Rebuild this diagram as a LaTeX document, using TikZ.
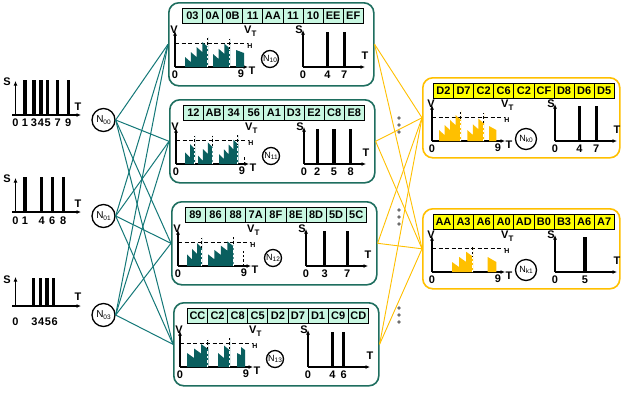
\documentclass[tikz,border=0pt]{standalone}
\usepackage{fontspec}
\setmainfont{Liberation Sans}
\usetikzlibrary{arrows.meta}

\definecolor{tealline}{RGB}{20,120,120}
\definecolor{tealborder}{RGB}{30,110,95}
\definecolor{tealfill}{RGB}{10,95,95}
\definecolor{mint}{RGB}{200,247,225}
\definecolor{amber}{RGB}{255,192,0}
\definecolor{ycell}{RGB}{255,255,0}
\definecolor{dotgray}{RGB}{110,110,110}

% subscript of a neuron label
\newcommand\nsub[1]{\raisebox{-1.5pt}{\fontsize{6.5}{7}\selectfont #1}}

% geometry of the two kinds of neuron panels
\newcommand\useteal{\def\pnW{205pt}\def\pnH{83pt}\def\pnCX{14}\def\pnOX{7}\def\pnOY{65}%
  \def\pnSX{128}\def\pnNX{95}\def\pnNY{8}\def\pnND{17pt}}
\newcommand\useyel{\def\pnW{197pt}\def\pnH{80pt}\def\pnCX{11}\def\pnOX{10}\def\pnOY{64}%
  \def\pnSX{123}\def\pnNX{94}\def\pnNY{2}\def\pnND{21pt}}

% #1 name, #2 left, #3 top, #4 kind (teal/yel), #5 register bytes, #6 neuron index, #7 output spike times
\newcommand\panel[7]{%
  \node[#4box, minimum width=\pnW, minimum height=\pnH] (#1) at (#2,#3) {};
  \foreach \hx [count=\ci from 0] in {#5}
    \node[#4cell] (#1c\ci) at ({#2+\pnCX+20.1*\ci},{#3+6}) {\hx};
  \begin{scope}[shift={({#2+\pnOX},{#3+\pnOY})}, yscale=-1]
    % membrane potential plot
    \draw[thr] (0,24) -- (73,24);
    \draw[axis] (0,0) -- (0,36);
    \draw[axis] (0,0) -- (73,0);
    \node[lbl] at (-1,37) {V};
    \node[lbl, anchor=west] at (69,36) {V\raisebox{-2.5pt}{\fontsize{8}{8}\selectfont T}};
    \node[lbl, font=\fontsize{7}{7}\selectfont\bfseries] at (75,21) {H};
    \node[lbl] at (0,-8) {0};
    \node[lbl] at (66,-7) {9};
    \node[lbl] at (77,-4) {T};
    % neuron
    \node[ncirc, minimum size=\pnND] (#1n) at (\pnNX,\pnNY) {N\nsub{#6}};
    % output spike train
    \draw[axis] (\pnSX,0) -- (\pnSX,37);
    \draw[axis] (\pnSX,0) -- ({\pnSX+62},0);
    \node[lbl] at ({\pnSX-4},37) {S};
    \node[lbl] at ({\pnSX+62},11) {T};
    \node[lbl] at (\pnSX,-8) {0};
    \foreach \t in {#7} {
      \draw[spk] ({\pnSX+2+5.6*\t},0) -- ({\pnSX+2+5.6*\t},35);
      \node[lbl] at ({\pnSX+2+5.6*\t},-8) {\t};
    }
  \end{scope}
}

% integrate-and-fire ramp: x0, x1, start height, peak height, number of inputs
\newcommand\memratchet[5]{%
  \pgfmathsetmacro\rd{(#4-#3)/#5}%
  \pgfmathsetmacro\rw{(#2-#1)/#5}%
  \pgfmathsetmacro\rlow{#3+(#5-1)*\rd-5}%
  \fill[mem] (#1,0) -- (#1,#3)
    \foreach \k in {1,...,#5}{ -- ({#1+\k*\rw},{#3+(\k-1)*\rd-5}) -- ({#1+\k*\rw},{#3+\k*\rd}) }
    -- (#2,0) -- cycle;
  \draw[resetb] (#2-0.6,0) -- (#2-0.6,#4);
  \draw[resetw] (#2-0.6,0) -- (#2-0.6,\rlow);
}
% leaking potential without firing
\newcommand\memdecay[4]{\fill[mem] (#1,0) -- (#1,#3) -- (#2,#4) -- (#2,0) -- cycle;}

\begin{document}
\begin{tikzpicture}[x=1pt,y=-1pt,
  lbl/.style={font=\fontsize{11}{12}\selectfont\bfseries, inner sep=0pt},
  hexcell/.style={draw=black, line width=0.8pt, minimum width=20.1pt, minimum height=15pt,
    inner sep=0pt, anchor=north west, font=\fontsize{11}{12}\selectfont\bfseries},
  tealcell/.style={hexcell, fill=mint},
  yelcell/.style={hexcell, fill=ycell},
  tealbox/.style={draw=tealborder, line width=1.6pt, rounded corners=10pt, inner sep=0pt, anchor=north west},
  yelbox/.style={draw=amber, line width=1.6pt, rounded corners=10pt, inner sep=0pt, anchor=north west},
  axis/.style={line width=1.3pt, -{Latex[length=4.5pt,width=4pt]}},
  thr/.style={line width=1pt, dash pattern=on 4pt off 2.5pt},
  spk/.style={line width=3.2pt},
  resetb/.style={line width=0.9pt, dash pattern=on 2.5pt off 2pt},
  resetw/.style={resetb, draw=white},
  ncirc/.style={circle, draw, line width=1.3pt, inner sep=0pt, font=\fontsize{9}{10}\selectfont},
  nleft/.style={ncirc, minimum size=23pt, font=\fontsize{10}{11}\selectfont},
  tline/.style={draw=tealline, line width=1pt},
  yline/.style={draw=amber, line width=0.9pt},
]
\fill[white] (0,0) rectangle (621,392);
\useasboundingbox (0,0) rectangle (621,392);

% ---- input spike trains ----
\draw[axis] (15.5,115) -- (15.5,81);
\draw[axis] (12,115) -- (81,115);
\node[lbl] at (7,82) {S};
\node[lbl] at (78,107) {T};
\node[lbl] at (15.5,123) {0};
\foreach \x/\t in {25/1,34/3,41/4,47.7/5,57.7/7,68.3/9}{
  \draw[spk] (\x,115) -- (\x,80);
  \node[lbl] at (\x,123) {\t};
}

\draw[axis] (15.5,212) -- (15.5,178);
\draw[axis] (12,212) -- (81,212);
\node[lbl] at (7,179) {S};
\node[lbl] at (78,204) {T};
\node[lbl] at (15.5,221) {0};
\foreach \x/\t in {25/1,41.7/4,52.3/6,63.3/8}{
  \draw[spk] (\x,212) -- (\x,177);
  \node[lbl] at (\x,221) {\t};
}

\draw[axis] (15.5,306) -- (15.5,277);
\draw[axis] (12,306) -- (81,306);
\node[lbl] at (7,280) {S};
\node[lbl] at (78,297) {T};
\node[lbl] at (15.5,322) {0};
\foreach \x/\t in {33.5/3,40.2/4,46.9/5,53.6/6}{
  \draw[spk] (\x,306) -- (\x,278);
  \node[lbl] at (\x+1,322) {\t};
}

% ---- input neurons ----
\node[nleft] (N00) at (103.5,120) {N\nsub{00}};
\node[nleft] (N01) at (103.5,216) {N\nsub{01}};
\node[nleft] (N03) at (103.5,315) {N\nsub{03}};

% ---- hidden layer ----
\useteal
\panel{P0}{168}{2}{teal}{03,0A,0B,11,AA,11,10,EE,EF}{10}{4,7}
\panel{P1}{169}{99}{teal}{12,AB,34,56,A1,D3,E2,C8,E8}{11}{2,5,8}
\panel{P2}{171}{201}{teal}{89,86,88,7A,8F,8E,8D,5D,5C}{12}{3,7}
\panel{P3}{173}{302}{teal}{CC,C2,C8,C5,D2,D7,D1,C9,CD}{13}{4,6}

% ---- output layer ----
\useyel
\panel{K0}{422}{77}{yel}{D2,D7,C2,C6,C2,CF,D8,D6,D5}{k0}{4,7}
\panel{K1}{422}{208}{yel}{AA,A3,A6,A0,AD,B0,B3,A6,A7}{k1}{5}

% ---- membrane potentials ----
\begin{scope}[shift={(175,67)}, yscale=-1, mem/.style={fill=tealfill}]
  \memratchet{10}{33}{10}{30}{4}
  \memratchet{38}{55}{13}{28.5}{3}
  \memdecay{61}{69}{17}{14}
\end{scope}
\begin{scope}[shift={(176,164)}, yscale=-1, mem/.style={fill=tealfill}]
  \memratchet{9}{19}{11.7}{28.3}{2}
  \memratchet{22}{36.7}{8.3}{28.3}{3}
  \memratchet{43}{62.3}{10}{29}{4}
  \draw[resetb] (68.3,0) -- (68.3,8);
\end{scope}
\begin{scope}[shift={(178,266)}, yscale=-1, mem/.style={fill=tealfill}]
  \memratchet{9}{24}{11.7}{28.3}{3}
  \memratchet{30}{55.7}{11.7}{29}{4}
  \draw[resetb] (65,0) -- (65,15);
\end{scope}
\begin{scope}[shift={(180,367)}, yscale=-1, mem/.style={fill=tealfill}]
  \memratchet{7}{28.3}{14}{27.3}{3}
  \memratchet{38}{50}{14}{29}{2}
  \fill[mem] (57,0) -- (57,14) -- (61,12) -- (61,20) -- (65,17) -- (65,0) -- cycle;
\end{scope}
\begin{scope}[shift={(432,141)}, yscale=-1, mem/.style={fill=amber}]
  \memratchet{7}{29}{11}{31}{4}
  \memratchet{35.3}{52}{11}{28}{3}
  \memdecay{57}{64.3}{15}{11}
\end{scope}
\begin{scope}[shift={(432,272)}, yscale=-1, mem/.style={fill=amber}]
  \memratchet{20}{41}{10}{25.5}{3}
  \memdecay{55.7}{64.3}{15}{10}
\end{scope}

% ---- synapses: input -> hidden ----
\foreach \s in {N00,N01,N03}
  \foreach \d in {P0,P1,P2,P3}
    \draw[tline] (\s.east) -- (\d.west);

% ---- synapses: hidden -> output ----
\foreach \s in {P0,P1,P2,P3}
  \foreach \d in {K0,K1}
    \draw[yline] (\s.east) -- (\d.west);

% ---- omitted neurons ----
\foreach \y in {118,210,308}
  \foreach \dy in {0,7,14}
    \fill[dotgray] (399,\y+\dy) circle (1.8);
\end{tikzpicture}
\end{document}
